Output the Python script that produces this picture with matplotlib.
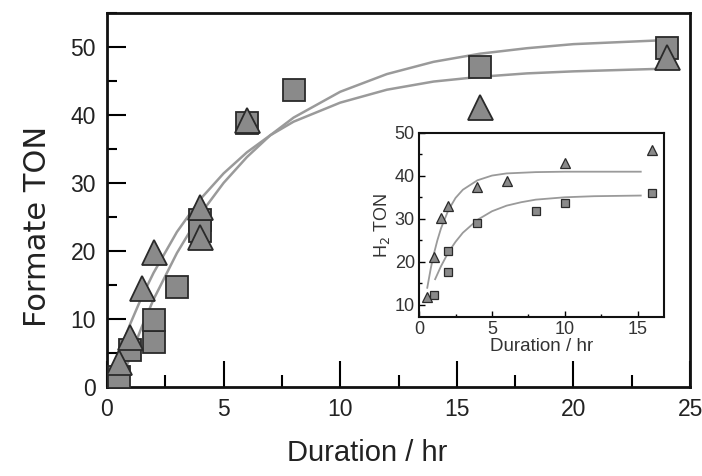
import matplotlib
matplotlib.use("Agg")
import matplotlib.pyplot as plt
from matplotlib.ticker import MultipleLocator

# main plot: formate TON vs time
sq_t = [0.5, 1.0, 2.0, 2.0, 3.0, 4.0, 4.0, 6.0, 8.0, 16.0, 24.0]
sq_ton = [1.5, 5.4, 6.6, 9.8, 14.7, 24.5, 23.0, 38.8, 43.7, 47.0, 49.8]
tri_t = [0.5, 1.0, 1.5, 2.0, 4.0, 4.0, 6.0, 16.0, 24.0]
tri_ton = [3.7, 7.3, 14.5, 19.9, 26.5, 22.0, 39.3, 41.2, 48.5]

# fit curves
sq_fit_t = [0.7, 1, 1.5, 2, 3, 4, 5, 6, 7, 8, 10, 12, 14, 16, 18, 20, 22, 24]
sq_fit_y = [1.7, 4.5, 8.9, 12.9, 19.7, 25.4, 30.0, 33.8, 37.0, 39.6, 43.4, 46.0,
            47.8, 49.0, 49.8, 50.4, 50.7, 51.0]
tri_fit_t = [0.5, 1, 1.5, 2, 3, 4, 5, 6, 7, 8, 10, 12, 14, 16, 18, 20, 22, 24]
tri_fit_y = [4.9, 9.3, 13.3, 16.8, 22.8, 27.6, 31.4, 34.5, 37.0, 39.0, 41.8, 43.7,
             44.9, 45.6, 46.1, 46.4, 46.6, 46.8]

# inset: H2 TON vs time
in_sq_t = [1.0, 2.0, 2.0, 4.0, 8.0, 10.0, 16.0]
in_sq_ton = [12.3, 22.6, 17.7, 29.1, 31.9, 33.7, 36.1]
in_tri_t = [0.56, 1.0, 1.5, 2.0, 4.0, 6.0, 10.0, 16.0]
in_tri_ton = [11.9, 21.2, 30.2, 33.0, 37.5, 38.8, 43.0, 46.0]

in_sq_fit_t = [1.1, 1.5, 2, 2.5, 3, 4, 5, 6, 7, 8, 10, 12, 15.2]
in_sq_fit_y = [16.0, 19.0, 22.2, 24.7, 26.8, 29.8, 31.8, 33.1, 33.9, 34.5, 35.05, 35.3, 35.45]
in_tri_fit_t = [0.56, 0.8, 1.0, 1.25, 1.5, 2, 2.5, 3, 4, 5, 6, 8, 10, 15.2]
in_tri_fit_y = [14.0, 18.5, 21.7, 25.0, 27.8, 32.0, 34.9, 36.8, 39.0, 40.1, 40.6, 40.9, 41.0, 41.0]

font = ["Liberation Sans", "DejaVu Sans"]
fill = "#8a8a8a"
edge = "#2a2a2a"
curve = "#9a9a9a"

fig = plt.figure(figsize=(7.02, 4.76), dpi=100)
ax = fig.add_axes([0.1524, 0.187, 0.8306, 0.786])

ax.plot(sq_fit_t, sq_fit_y, color=curve, lw=1.8, zorder=2)
ax.plot(tri_fit_t, tri_fit_y, color=curve, lw=1.8, zorder=2)
ax.plot(sq_t, sq_ton, "s", ms=16, mfc=fill, mec=edge, mew=1.3, ls="none", zorder=3)
ax.plot(tri_t, tri_ton, "^", ms=18, mfc=fill, mec=edge, mew=1.3, ls="none", zorder=4)

ax.set_xlim(0, 25)
ax.set_ylim(0, 55)
ax.xaxis.set_major_locator(MultipleLocator(5))
ax.xaxis.set_minor_locator(MultipleLocator(2.5))
ax.yaxis.set_minor_locator(MultipleLocator(5))
ax.set_yticks([0, 10, 20, 30, 40, 50])
ax.tick_params(axis="x", which="major", direction="in", length=19, width=1.5, pad=8)
ax.tick_params(axis="x", which="minor", direction="in", length=9, width=1.5)
ax.tick_params(axis="y", which="major", direction="in", length=14, width=1.5, pad=8)
ax.tick_params(axis="y", which="minor", direction="in", length=7, width=1.5)
for s in ax.spines.values():
    s.set_linewidth(2.0)
    s.set_color("#111111")
for lab in ax.get_xticklabels() + ax.get_yticklabels():
    lab.set_family(font)
    lab.set_fontsize(16.5)
    lab.set_color("#222222")
ax.set_xlabel("Duration / hr", family=font, fontsize=21, color="#222222")
ax.xaxis.set_label_coords(0.446, -0.138)
ax.set_ylabel("Formate TON", family="DejaVu Sans", fontsize=22, color="#222222")
ax.yaxis.set_label_coords(-0.094, 0.43)

# inset
ins = fig.add_axes([0.597, 0.334, 0.349, 0.3866])
ins.plot(in_sq_fit_t, in_sq_fit_y, color=curve, lw=1.3, zorder=2)
ins.plot(in_tri_fit_t, in_tri_fit_y, color=curve, lw=1.3, zorder=2)
ins.plot(in_sq_t, in_sq_ton, "s", ms=6, mfc=fill, mec=edge, mew=0.9, ls="none", zorder=3)
ins.plot(in_tri_t, in_tri_ton, "^", ms=7, mfc=fill, mec=edge, mew=0.9, ls="none", zorder=4)
ins.set_xlim(0, 16.8)
ins.set_ylim(7.2, 50)
ins.xaxis.set_major_locator(MultipleLocator(5))
ins.xaxis.set_minor_locator(MultipleLocator(2.5))
ins.set_yticks([10, 20, 30, 40, 50])
ins.yaxis.set_minor_locator(MultipleLocator(5))
ins.tick_params(which="major", direction="in", length=4, width=1.0, pad=3)
ins.tick_params(which="minor", direction="in", length=2.5, width=1.0)
for s in ins.spines.values():
    s.set_linewidth(1.5)
    s.set_color("#111111")
for lab in ins.get_xticklabels() + ins.get_yticklabels():
    lab.set_family(font)
    lab.set_fontsize(13)
    lab.set_color("#333333")
ins.set_xlabel("Duration / hr", family=font, fontsize=13.5, color="#333333", labelpad=0)
ins.set_ylabel("H$_2$ TON", family=font, fontsize=13, color="#333333", labelpad=2)

fig.savefig("out.png", dpi=100)
